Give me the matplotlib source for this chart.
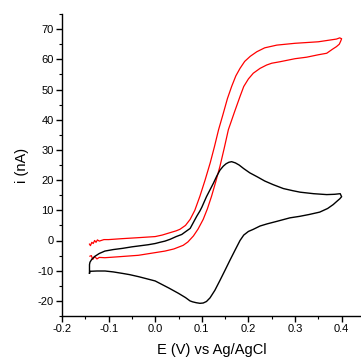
"""Cyclic voltammograms: black (with peaks) and red (sigmoidal) traces vs Ag/AgCl."""
import matplotlib
matplotlib.use("Agg")
import matplotlib.pyplot as plt
from matplotlib.ticker import MultipleLocator

plt.rcParams["font.family"] = ["Liberation Sans", "DejaVu Sans"]
plt.rcParams["axes.unicode_minus"] = False

# red trace: forward sweep then return sweep (E in V, i in nA)
red_E = [-0.141, -0.139, -0.136, -0.133, -0.130, -0.127, -0.124, -0.120, -0.110, -0.100,
         -0.072, -0.040, -0.020, 0.000, 0.015, 0.032, 0.045, 0.053, 0.065, 0.075,
         0.085, 0.096, 0.107, 0.118, 0.127, 0.136, 0.145, 0.155, 0.164, 0.173,
         0.182, 0.192, 0.204, 0.218, 0.235, 0.261, 0.300, 0.350, 0.389, 0.396, 0.400,
         0.398, 0.395, 0.389, 0.380, 0.368, 0.350, 0.325, 0.300, 0.268, 0.250,
         0.239, 0.225, 0.2105, 0.200, 0.190, 0.182, 0.170, 0.157, 0.148, 0.139,
         0.130, 0.121, 0.112, 0.103, 0.092, 0.082, 0.070, 0.060, 0.040, 0.021,
         -0.036, -0.080, -0.108, -0.120, -0.125, -0.130, -0.134, -0.137, -0.140]
red_i = [-1.2, -1.7, -0.6, -1.0, 0.0, -0.6, 0.2, -0.2, 0.3, 0.3,
         0.6, 0.9, 1.1, 1.3, 1.8, 2.6, 3.2, 3.7, 5.0, 7.0,
         10.0, 14.7, 20.0, 25.7, 31.0, 36.7, 41.5, 47.0, 51.0, 54.5,
         57.0, 59.3, 61.0, 62.5, 63.8, 64.7, 65.3, 65.8, 66.7, 67.1, 66.8,
         66.0, 65.0, 64.2, 63.3, 62.0, 61.5, 60.7, 60.2, 59.2, 58.7,
         58.1, 57.0, 55.4, 53.5, 51.0, 47.7, 42.5, 36.7, 30.5, 24.6,
         19.5, 14.7, 10.5, 7.0, 3.8, 1.5, -0.5, -1.6, -2.8, -3.5,
         -4.9, -5.4, -5.7, -5.6, -6.1, -5.3, -6.3, -5.0, -5.2]

# black trace: forward sweep then return sweep
black_E = [-0.141, -0.141, -0.140, -0.138, -0.136, -0.130, -0.120, -0.108, -0.090, -0.070,
           -0.050, -0.035, -0.015, 0.000, 0.010, 0.021, 0.032, 0.045, 0.057, 0.065,
           0.075, 0.082, 0.089, 0.096, 0.100, 0.110, 0.118, 0.125, 0.132, 0.139,
           0.146, 0.152, 0.158, 0.164, 0.172, 0.180, 0.190, 0.203, 0.220, 0.235,
           0.253, 0.275, 0.295, 0.311, 0.340, 0.368, 0.385, 0.397, 0.400,
           0.396, 0.390, 0.382, 0.370, 0.353, 0.330, 0.310, 0.289, 0.260, 0.240,
           0.225, 0.2105, 0.200, 0.190, 0.182, 0.172, 0.1605, 0.150, 0.139, 0.128,
           0.1176, 0.110, 0.103, 0.096, 0.088, 0.080, 0.0747, 0.065, 0.050, 0.030,
           0.015, 0.000, -0.020, -0.035, -0.055, -0.070, -0.090, -0.1077, -0.125, -0.140,
           -0.141]
black_i = [-10.8, -8.0, -7.2, -6.7, -6.2, -5.3, -4.3, -3.5, -3.0, -2.6,
           -2.1, -1.8, -1.4, -1.0, -0.6, -0.2, 0.4, 1.3, 2.0, 2.9,
           4.0, 6.0, 8.0, 9.8, 11.0, 14.5, 16.9, 19.0, 21.3, 23.3,
           24.6, 25.4, 25.9, 26.1, 25.7, 25.0, 23.8, 22.4, 21.0, 19.7,
           18.5, 17.2, 16.5, 16.0, 15.5, 15.2, 15.3, 15.5, 14.5,
           13.8, 13.0, 11.9, 10.6, 9.4, 8.6, 8.0, 7.5, 6.3, 5.5,
           4.8, 3.7, 3.0, 1.8, 0.0, -3.0, -6.5, -9.8, -13.2, -16.5,
           -19.0, -20.2, -20.7, -20.8, -20.6, -20.3, -20.0, -18.9, -17.5, -15.8,
           -14.6, -13.4, -12.6, -12.0, -11.3, -10.9, -10.4, -10.1, -10.1, -10.2,
           -10.8]

fig = plt.figure(figsize=(3.61, 3.63), dpi=100)
ax = fig.add_axes([62 / 361, 47 / 363, 299 / 361, 302 / 363])
ax.plot(red_E, red_i, color="#ff0000", lw=0.9)
ax.plot(black_E, black_i, color="black", lw=1.0)

ax.set_xlim(-0.2, 0.4416)
ax.set_ylim(-25, 75)
ax.xaxis.set_minor_locator(MultipleLocator(0.05))
ax.yaxis.set_minor_locator(MultipleLocator(5))
ax.set_xticks([-0.2, -0.1, 0.0, 0.1, 0.2, 0.3, 0.4])
ax.set_xticklabels(["-0.2", "-0.1", "0.0", "0.1", "0.2", "0.3", "0.4"])
ax.set_yticks(range(-20, 71, 10))
ax.spines["top"].set_visible(False)
ax.spines["right"].set_visible(False)
for s in ("left", "bottom"):
    ax.spines[s].set_linewidth(1.0)
ax.tick_params(which="major", direction="out", length=4, width=1.0, labelsize=8, pad=2)
ax.tick_params(which="minor", direction="out", length=2.5, width=0.8)
ax.set_xlabel("E (V) vs Ag/AgCl", fontsize=10.5, labelpad=6)
ax.set_ylabel("i (nA)", fontsize=10.5, labelpad=6)

fig.savefig("out.png", dpi=100)
